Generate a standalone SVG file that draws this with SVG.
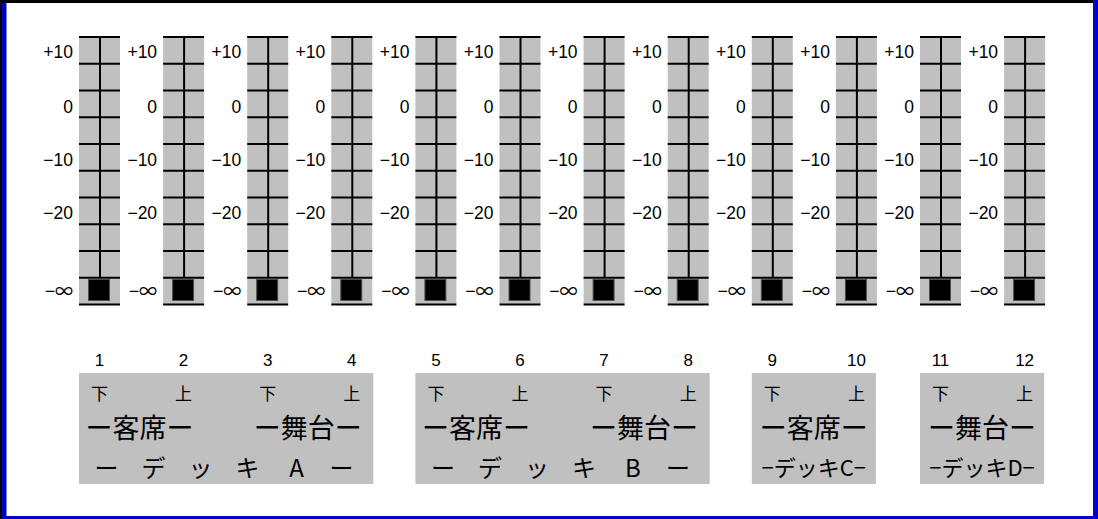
<svg xmlns="http://www.w3.org/2000/svg" xmlns:xlink="http://www.w3.org/1999/xlink" width="1098" height="519" viewBox="0 0 1098 519">
<style>
.sc{font-family:"Liberation Sans",Arial,sans-serif;font-size:17.5px;fill:#000;text-anchor:end}
.inf{font-family:"Noto Sans CJK JP","Liberation Sans",sans-serif;font-size:18px;fill:#000;text-anchor:end}
.num{font-family:"Liberation Sans",Arial,sans-serif;font-size:17px;fill:#000;text-anchor:middle}
.ud{font-family:"Noto Sans CJK JP",sans-serif;font-size:17px;fill:#000;text-anchor:middle}
.big{font-family:"Noto Sans CJK JP",sans-serif;font-size:27px;fill:#000;text-anchor:middle}
.dk{font-family:"Noto Sans CJK JP",sans-serif;font-size:24px;fill:#000;text-anchor:middle}
.dks{font-family:"Noto Sans CJK JP",sans-serif;font-size:22px;fill:#000;text-anchor:middle}
.box{fill:#c0c0c0}
.tick{stroke:#000;stroke-width:2}
</style>
<defs>
<g id="body">
<rect x="0" y="36" width="41" height="268" fill="#c0c0c0"/>
<path class="tick" d="M0 37H41M0 63.75H41M0 90.5H41M0 117.25H41M0 144H41M0 170.75H41M0 197.5H41M0 224.25H41M0 251H41M0 277.75H41M0 304.5H41M21 37V277.75"/>
<rect x="9.5" y="279.5" width="21" height="21" fill="#000" stroke="#505050" stroke-width="1"/>
</g>
</defs>
<rect width="1098" height="519" fill="#fff"/>
<g id="frame">
<rect x="0" y="0" width="1093" height="3" fill="#000"/>
<rect x="0" y="0" width="2" height="519" fill="#000"/>
<rect x="2" y="3" width="4.5" height="516" fill="#0000cc"/>
<rect x="2" y="516" width="1096" height="3" fill="#0000cc"/>
<rect x="1093" y="0" width="5" height="519" fill="#0000cc"/>
</g>
<g id="fader1" transform="translate(79,0)"><use xlink:href="#body"/><text class="sc" x="-6" y="58">+10</text><text class="sc" x="-6" y="112.5">0</text><text class="sc" x="-6" y="165.5">−10</text><text class="sc" x="-6" y="218.5">−20</text><text class="inf" x="-6" y="298">−∞</text><text class="num" x="20.5" y="366">1</text></g>
<g id="fader2" transform="translate(163.1,0)"><use xlink:href="#body"/><text class="sc" x="-6" y="58">+10</text><text class="sc" x="-6" y="112.5">0</text><text class="sc" x="-6" y="165.5">−10</text><text class="sc" x="-6" y="218.5">−20</text><text class="inf" x="-6" y="298">−∞</text><text class="num" x="20.5" y="366">2</text></g>
<g id="fader3" transform="translate(247.2,0)"><use xlink:href="#body"/><text class="sc" x="-6" y="58">+10</text><text class="sc" x="-6" y="112.5">0</text><text class="sc" x="-6" y="165.5">−10</text><text class="sc" x="-6" y="218.5">−20</text><text class="inf" x="-6" y="298">−∞</text><text class="num" x="20.5" y="366">3</text></g>
<g id="fader4" transform="translate(331.3,0)"><use xlink:href="#body"/><text class="sc" x="-6" y="58">+10</text><text class="sc" x="-6" y="112.5">0</text><text class="sc" x="-6" y="165.5">−10</text><text class="sc" x="-6" y="218.5">−20</text><text class="inf" x="-6" y="298">−∞</text><text class="num" x="20.5" y="366">4</text></g>
<g id="fader5" transform="translate(415.4,0)"><use xlink:href="#body"/><text class="sc" x="-6" y="58">+10</text><text class="sc" x="-6" y="112.5">0</text><text class="sc" x="-6" y="165.5">−10</text><text class="sc" x="-6" y="218.5">−20</text><text class="inf" x="-6" y="298">−∞</text><text class="num" x="20.5" y="366">5</text></g>
<g id="fader6" transform="translate(499.5,0)"><use xlink:href="#body"/><text class="sc" x="-6" y="58">+10</text><text class="sc" x="-6" y="112.5">0</text><text class="sc" x="-6" y="165.5">−10</text><text class="sc" x="-6" y="218.5">−20</text><text class="inf" x="-6" y="298">−∞</text><text class="num" x="20.5" y="366">6</text></g>
<g id="fader7" transform="translate(583.6,0)"><use xlink:href="#body"/><text class="sc" x="-6" y="58">+10</text><text class="sc" x="-6" y="112.5">0</text><text class="sc" x="-6" y="165.5">−10</text><text class="sc" x="-6" y="218.5">−20</text><text class="inf" x="-6" y="298">−∞</text><text class="num" x="20.5" y="366">7</text></g>
<g id="fader8" transform="translate(667.7,0)"><use xlink:href="#body"/><text class="sc" x="-6" y="58">+10</text><text class="sc" x="-6" y="112.5">0</text><text class="sc" x="-6" y="165.5">−10</text><text class="sc" x="-6" y="218.5">−20</text><text class="inf" x="-6" y="298">−∞</text><text class="num" x="20.5" y="366">8</text></g>
<g id="fader9" transform="translate(751.8,0)"><use xlink:href="#body"/><text class="sc" x="-6" y="58">+10</text><text class="sc" x="-6" y="112.5">0</text><text class="sc" x="-6" y="165.5">−10</text><text class="sc" x="-6" y="218.5">−20</text><text class="inf" x="-6" y="298">−∞</text><text class="num" x="20.5" y="366">9</text></g>
<g id="fader10" transform="translate(835.9,0)"><use xlink:href="#body"/><text class="sc" x="-6" y="58">+10</text><text class="sc" x="-6" y="112.5">0</text><text class="sc" x="-6" y="165.5">−10</text><text class="sc" x="-6" y="218.5">−20</text><text class="inf" x="-6" y="298">−∞</text><text class="num" x="20.5" y="366">10</text></g>
<g id="fader11" transform="translate(920,0)"><use xlink:href="#body"/><text class="sc" x="-6" y="58">+10</text><text class="sc" x="-6" y="112.5">0</text><text class="sc" x="-6" y="165.5">−10</text><text class="sc" x="-6" y="218.5">−20</text><text class="inf" x="-6" y="298">−∞</text><text class="num" x="20.5" y="366">11</text></g>
<g id="fader12" transform="translate(1004.1,0)"><use xlink:href="#body"/><text class="sc" x="-6" y="58">+10</text><text class="sc" x="-6" y="112.5">0</text><text class="sc" x="-6" y="165.5">−10</text><text class="sc" x="-6" y="218.5">−20</text><text class="inf" x="-6" y="298">−∞</text><text class="num" x="20.5" y="366">12</text></g>
<g id="deckA">
<rect class="box" x="79" y="373" width="294.3" height="111"/>
<text class="ud" x="99.5" y="400">下</text><text class="ud" x="183.6" y="400">上</text><text class="ud" x="267.7" y="400">下</text><text class="ud" x="351.8" y="400">上</text>
<text class="big" x="139.5" y="438">ー客席ー</text><text class="big" x="307.7" y="438">ー舞台ー</text>
<text class="dk" x="106.6 153.6 200.6 247.6 296.6 341.6" y="476.5">ーデッキAー</text>
</g>
<g id="deckB">
<rect class="box" x="415.4" y="373" width="294.3" height="111"/>
<text class="ud" x="435.9" y="400">下</text><text class="ud" x="520" y="400">上</text><text class="ud" x="604.1" y="400">下</text><text class="ud" x="688.2" y="400">上</text>
<text class="big" x="475.9" y="438">ー客席ー</text><text class="big" x="644.1" y="438">ー舞台ー</text>
<text class="dk" x="443 490 537 584 633 678" y="476.5">ーデッキBー</text>
</g>
<g id="deckC">
<rect class="box" x="751.8" y="373" width="124.1" height="111"/>
<text class="ud" x="772.3" y="400">下</text><text class="ud" x="856.4" y="400">上</text>
<text class="big" x="813.8" y="438">ー客席ー</text>
<text class="dks" x="813.8" y="476">−デッキC−</text>
</g>
<g id="deckD">
<rect class="box" x="920" y="373" width="124.1" height="111"/>
<text class="ud" x="940.5" y="400">下</text><text class="ud" x="1024.6" y="400">上</text>
<text class="big" x="982" y="438">ー舞台ー</text>
<text class="dks" x="982" y="476">−デッキD−</text>
</g>
</svg>
